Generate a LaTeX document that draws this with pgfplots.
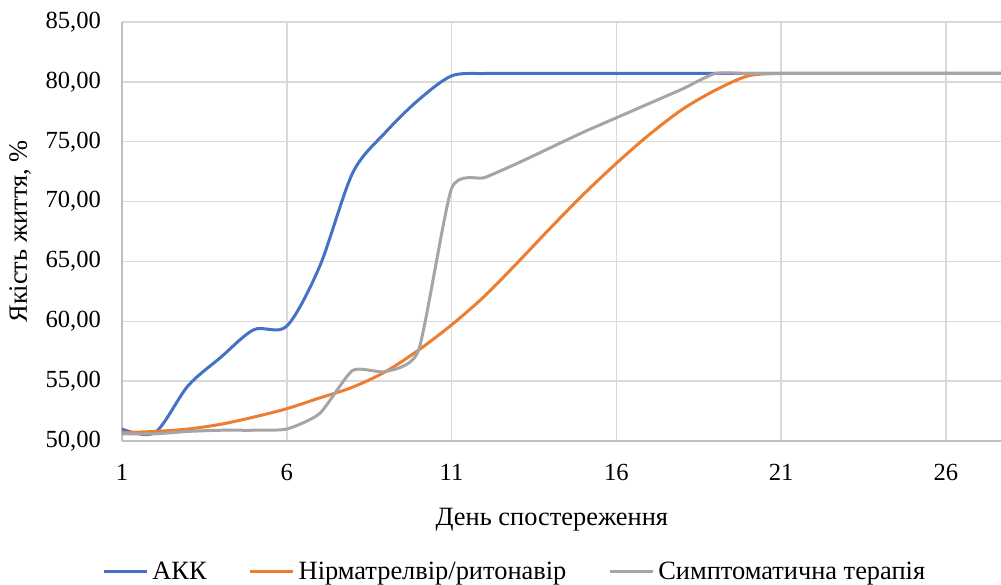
\documentclass[border=0pt]{standalone}
\usepackage{pgfplots}
\pgfplotsset{compat=1.18}
\usepackage{fontspec}
\setmainfont{Liberation Serif}

\definecolor{akk}{HTML}{4472C4}
\definecolor{nirm}{HTML}{ED7D31}
\definecolor{sympt}{HTML}{A5A5A5}
\definecolor{gridc}{HTML}{D9D9D9}
\definecolor{axisc}{HTML}{BFBFBF}

\newcommand\ticksize{\fontsize{12.3pt}{14pt}\selectfont}
\newcommand\labelsize{\fontsize{13.2pt}{15pt}\selectfont}

\begin{document}
\begin{tikzpicture}
\begin{axis}[
  width=439.5pt, height=209.5pt, scale only axis,
  xmin=1, xmax=27.67, ymin=50, ymax=85,
  xtick={1,6,11,16,21,26},
  ytick={50,55,...,85},
  axis x line*=bottom, axis y line*=left,
  axis line style={draw=axisc, line width=1pt, -},
  grid=major,
  major grid style={draw=gridc, line width=0.75pt},
  major tick length=0pt,
  /pgf/number format/assume math mode=true,
  yticklabel={\pgfmathprintnumber[fixed, fixed zerofill, precision=2, use comma]{\tick}},
  yticklabel style={font=\ticksize, xshift=-7pt},
  xticklabel style={font=\ticksize, yshift=-8pt},
  xlabel={День спостереження},
  ylabel={Якість життя, \%},
  xlabel style={font=\labelsize, at={(axis description cs:0.489,-0.1885)}, anchor=center},
  ylabel style={font=\labelsize, at={(axis description cs:-0.116,0.5)}, anchor=center},
  legend style={at={(axis description cs:0.448,-0.3126)}, anchor=center,
    draw=none, fill=none, legend columns=3,
    /tikz/every even column/.append style={column sep=19pt},
    font=\labelsize},
  legend image code/.code={\draw[#1] (0pt,0pt) -- (21.5pt,0pt);},
  every axis plot/.append style={line width=1.5pt, smooth, tension=0.5},
  clip=true,
]
\addplot[color=akk] coordinates {
  (1,51.0) (2,50.7) (3,54.6) (4,57.0) (5,59.3) (6,59.6) (7,64.6) (8,72.4)
  (9,75.8) (10,78.5) (11,80.5) (12,80.7) (13,80.7) (14,80.7) (15,80.7)
  (16,80.7) (17,80.7) (18,80.7) (19,80.7) (20,80.7) (21,80.7) (22,80.7)
  (23,80.7) (24,80.7) (25,80.7) (26,80.7) (27,80.7) (28,80.7)};
\addlegendentry{АКК}
\addplot[color=nirm] coordinates {
  (1,50.7) (2,50.8) (3,51.0) (4,51.4) (5,52.0) (6,52.7) (7,53.6) (8,54.5)
  (9,55.8) (10,57.6) (11,59.7) (12,62.1) (13,64.9) (14,67.8) (15,70.6)
  (16,73.2) (17,75.6) (18,77.7) (19,79.3) (20,80.5) (21,80.7) (22,80.7)
  (23,80.7) (24,80.7) (25,80.7) (26,80.7) (27,80.7) (28,80.7)};
\addlegendentry{Нірматрелвір/ритонавір}
\addplot[color=sympt, tension=0.35] coordinates {
  (1,50.6) (2,50.6) (3,50.8) (4,50.9) (5,50.9) (6,51.0) (7,52.3) (8,55.9)
  (9,55.8) (10,57.6) (11,71.1) (12,72.0) (13,73.2) (14,74.5) (15,75.8)
  (16,77.0) (17,78.2) (18,79.4) (19,80.7) (20,80.7) (21,80.7) (22,80.7)
  (23,80.7) (24,80.7) (25,80.7) (26,80.7) (27,80.7) (28,80.7)};
\addlegendentry{Симптоматична терапія}
\end{axis}
\pgfresetboundingbox
\useasboundingbox (-61pt,-71.5pt) rectangle (439.5pt,220.5pt);
\end{tikzpicture}
\end{document}
